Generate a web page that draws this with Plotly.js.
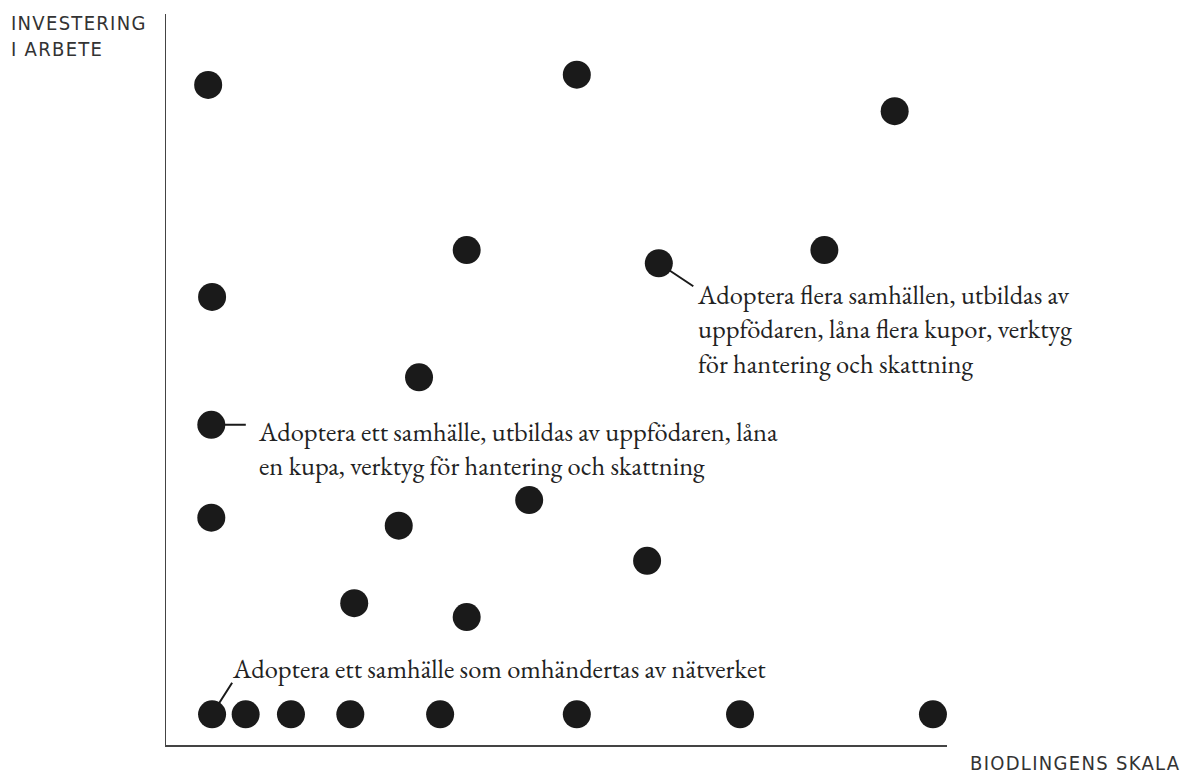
<!DOCTYPE html>
<html>
<head>
<meta charset="utf-8">
<script src="https://cdn.plot.ly/plotly-3.0.1.min.js"></script>
<style>
  html, body { margin: 0; padding: 0; background: #fff; }
  #chart { width: 1183px; height: 776px; }
  text[data-unformatted^="INVESTERING"], text[data-unformatted^="BIODLINGENS"] { letter-spacing: 1.3px; }
</style>
</head>
<body>
<div id="chart"></div>
<script>
// Biodlingens skala (x) vs investering i arbete (y), 0-100 scale
const scaleX = [5.4, 52.6, 93.3, 38.5, 63.1, 84.3, 5.9, 32.4, 5.8, 5.8, 29.8, 46.5, 61.6, 24.1, 38.5,
                5.9, 10.2, 16.0, 23.6, 35.1, 52.6, 73.5, 98.2];
const workY  = [90.3, 91.7, 86.7, 67.7, 65.9, 67.7, 61.3, 50.3, 43.8, 31.1, 30.0, 33.5, 25.2, 19.4, 17.5,
                4.2, 4.2, 4.2, 4.2, 4.2, 4.2, 4.2, 4.2];

const notePoint = [4, 8, 15];
const noteText = [
  "Adoptera flera samhällen, utbildas av<br>uppfödaren, låna flera kupor, verktyg<br>för hantering och skattning",
  "Adoptera ett samhälle, utbildas av uppfödaren, låna<br>en kupa, verktyg för hantering och skattning",
  "Adoptera ett samhälle som omhändertas av nätverket"
];
const yTitle = "INVESTERING<br>I ARBETE";
const xTitle = "BIODLINGENS SKALA";

const serif = "'EB Garamond', Garamond, 'Liberation Serif', serif";
const narrow = "'Liberation Sans Narrow', 'DejaVu Sans Condensed', 'Roboto', sans-serif";

const trace = {
  x: scaleX, y: workY, type: 'scatter', mode: 'markers',
  marker: { size: 28, color: '#1a1a1a', line: { width: 0 } },
  hoverinfo: 'skip', cliponaxis: false
};

// connector offsets (pixels) and text offsets (pixels)
const conn = [ {ax: 36, ay: 24}, {ax: 36, ay: 0}, {ax: 21, ay: -33} ];
const txt  = [ {dx: 36, dy: -66}, {dx: 45, dy: -23.5}, {dx: 18, dy: 46} ];

const annotations = [];
notePoint.forEach((pi, i) => {
  annotations.push({
    x: scaleX[pi], y: workY[pi], xref: 'x', yref: 'y', text: '',
    showarrow: true, arrowhead: 0, arrowwidth: 2, arrowcolor: '#1a1a1a',
    ax: conn[i].ax, ay: conn[i].ay, standoff: 13
  });
  annotations.push({
    x: scaleX[pi], y: workY[pi], xref: 'x', yref: 'y', text: noteText[i],
    showarrow: false, xanchor: 'left', yanchor: 'middle', align: 'left',
    xshift: txt[i].dx, yshift: txt[i].dy,
    font: { family: serif, size: 26.5, color: '#222' }
  });
});
annotations.push({
  x: 0, y: 1, xref: 'paper', yref: 'paper', text: yTitle,
  showarrow: false, xanchor: 'left', yanchor: 'middle', align: 'left',
  xshift: -157, yshift: -21.5,
  font: { family: narrow, size: 20, color: '#333' }
});
annotations.push({
  x: 1, y: 0, xref: 'paper', yref: 'paper', text: xTitle,
  showarrow: false, xanchor: 'right', yanchor: 'middle', align: 'right',
  xshift: 235, yshift: -18,
  font: { family: narrow, size: 20, color: '#333' }
});

const layout = {
  width: 1183, height: 776,
  margin: { l: 166, r: 236, t: 14, b: 31 },
  paper_bgcolor: '#fff', plot_bgcolor: '#fff',
  showlegend: false,
  xaxis: { range: [0, 100], showline: true, linecolor: '#444', linewidth: 1.5,
           showgrid: false, zeroline: false, showticklabels: false, ticks: '' },
  yaxis: { range: [0, 100], showline: true, linecolor: '#444', linewidth: 1.5,
           showgrid: false, zeroline: false, showticklabels: false, ticks: '' },
  annotations: annotations
};

Plotly.newPlot('chart', [trace], layout, { displayModeBar: false, staticPlot: true });
</script>
</body>
</html>
